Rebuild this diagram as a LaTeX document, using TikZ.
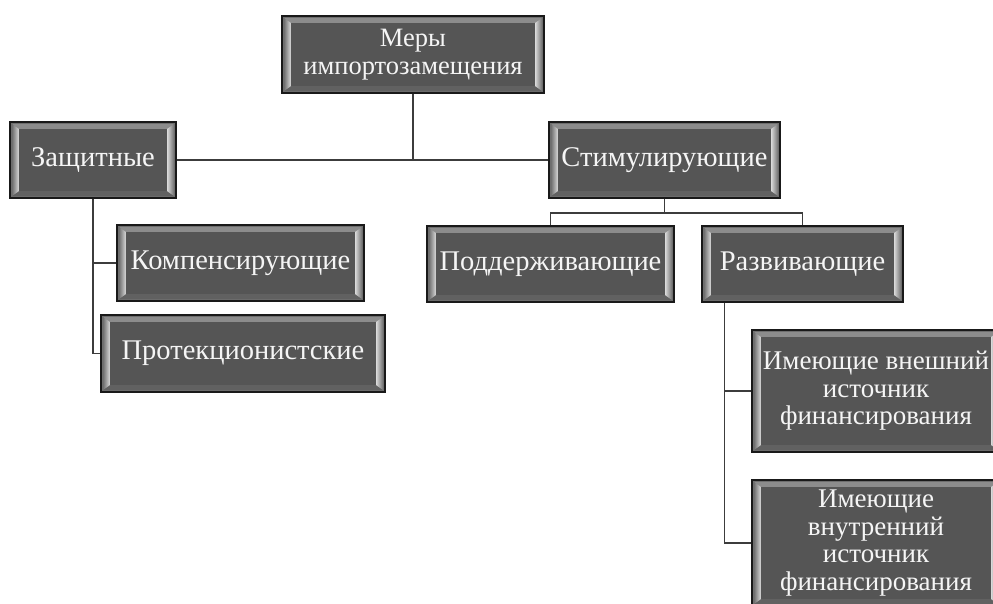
\documentclass[tikz,border=0pt]{standalone}
\usepackage{fontspec}
\setmainfont{Liberation Serif}
\usetikzlibrary{calc}
\definecolor{boxgray}{HTML}{555555}
\definecolor{framegray}{HTML}{6E6E6E}
\definecolor{framelight}{HTML}{DADADA}
\definecolor{framedark}{HTML}{707070}
\definecolor{linegray}{HTML}{3C3C3C}
\tikzset{
  bev/.style={draw=black!90, line width=1.3pt, fill=framegray, text=white!96!black,
    align=center, inner sep=0pt, rectangle,
    path picture={
      \coordinate (pnw) at (path picture bounding box.north west);
      \coordinate (pse) at (path picture bounding box.south east);
      \coordinate (pne) at (pnw -| pse);
      \coordinate (psw) at (pse -| pnw);
      % top strip
      \fill[color=black!45] ([xshift=2pt,yshift=-2pt]pnw) -- ([xshift=-2pt,yshift=-2pt]pne) -- ([xshift=-9pt,yshift=-7pt]pne) -- ([xshift=9pt,yshift=-7pt]pnw) -- cycle;
      % bottom strip
      \fill[color=black!62] ([xshift=2pt,yshift=2pt]psw) -- ([xshift=-2pt,yshift=2pt]pse) -- ([xshift=-9pt,yshift=7pt]pse) -- ([xshift=9pt,yshift=7pt]psw) -- cycle;
      % left strip
      \shade[left color=framedark, right color=framelight] ([xshift=2pt,yshift=-2pt]pnw) -- ([xshift=9pt,yshift=-7pt]pnw) -- ([xshift=9pt,yshift=7pt]psw) -- ([xshift=2pt,yshift=2pt]psw) -- cycle;
      % right strip
      \shade[left color=framelight, right color=framedark] ([xshift=-2pt,yshift=-2pt]pne) -- ([xshift=-9pt,yshift=-7pt]pne) -- ([xshift=-9pt,yshift=7pt]pse) -- ([xshift=-2pt,yshift=2pt]pse) -- cycle;
      % inner face
      \fill[boxgray] ([xshift=9pt,yshift=-7pt]pnw) rectangle ([xshift=-9pt,yshift=7pt]pse);
    }},
  one/.style={font=\fontsize{28.5}{31}\selectfont},
  conn/.style={draw=linegray, line width=1.9pt}
}
\begin{document}
\begin{tikzpicture}[x=1pt,y=-1pt]
\useasboundingbox (0,0) rectangle (993,603);
\clip (0,0) rectangle (993,603);
\node[bev, minimum width=262pt, minimum height=77pt, font=\fontsize{26.5}{28}\selectfont] (top) at (413,54.5) {Меры\\импортозамещения};
\node[bev, one, minimum width=166pt, minimum height=76pt] (zash) at (93,160) {Защитные};
\node[bev, one, minimum width=247pt, minimum height=76pt] (komp) at (240.5,263) {Компенсирующие};
\node[bev, one, minimum width=284pt, minimum height=77pt] (prot) at (243,353.5) {Протекционистские};
\node[bev, one, minimum width=231pt, minimum height=76pt] (stim) at (664.5,160) {Стимулирующие};
\node[bev, one, minimum width=247pt, minimum height=76pt] (podd) at (550.5,264) {Поддерживающие};
\node[bev, one, minimum width=201pt, minimum height=76pt] (razv) at (802.5,264) {Развивающие};
\node[bev, minimum width=248pt, minimum height=122pt, font=\fontsize{27}{27.5}\selectfont] (vnesh) at (876,391) {Имеющие внешний\\источник\\финансирования};
\node[bev, minimum width=248pt, minimum height=126pt, font=\fontsize{27}{27.5}\selectfont] (vnutr) at (876,543) {Имеющие\\внутренний\\источник\\финансирования};
% connectors
\draw[conn] (zash.east) -- (stim.west);
\draw[conn] (top.south) -- (top.south |- zash.east);
\draw[conn] (zash.south) |- (komp.west);
\draw[conn] (zash.south) |- (prot.west);
\coordinate (sj) at ([yshift=-14pt]stim.south);
\draw[conn] (stim.south) -- (sj);
\draw[conn] (sj) -| (podd.north);
\draw[conn] (sj) -| (razv.north);
\coordinate (rv) at ([xshift=-78pt]razv.south);
\draw[conn] (rv) |- (vnesh.west);
\draw[conn] (rv) |- (vnutr.west);
\end{tikzpicture}
\end{document}
